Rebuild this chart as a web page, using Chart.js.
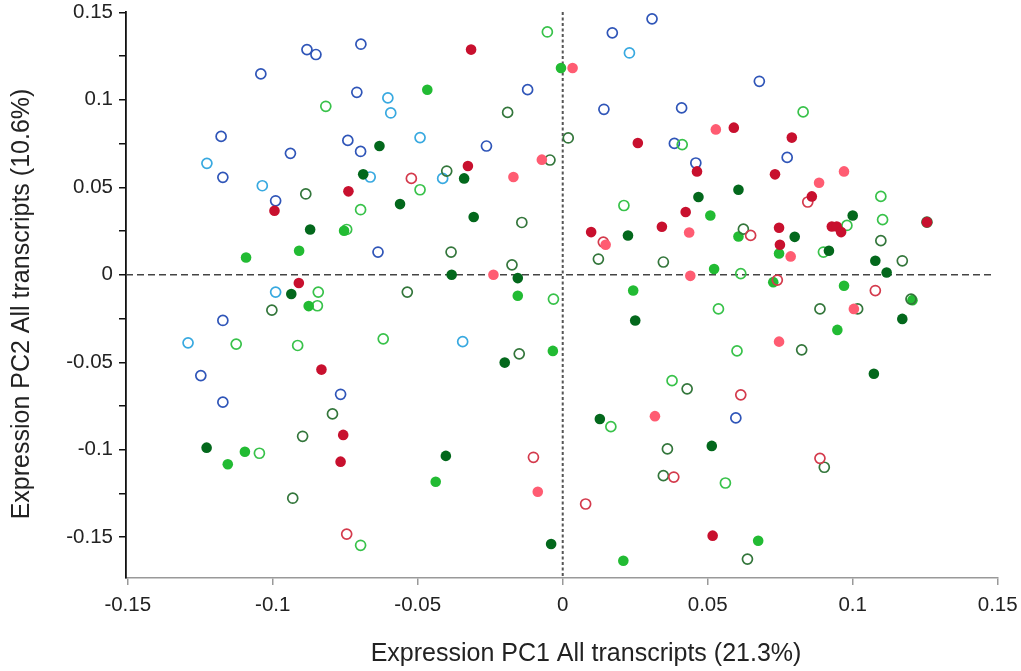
<!DOCTYPE html>
<html>
<head>
<meta charset="utf-8">
<script src="https://cdn.jsdelivr.net/npm/chart.js@4.4.1/dist/chart.umd.min.js"></script>
<style>
  body { margin: 0; background: #fff; }
  canvas { display: block; }
</style>
</head>
<body>
<canvas id="graficoPCA" width="1021" height="671"></canvas>
<script>
// valores [PC1, PC2]
var azulOscuroAbierto = [
    [-0.0882, 0.1287], [-0.0851, 0.1259], [-0.1041, 0.1148], [-0.1178, 0.0791], [-0.0939, 0.0694],
    [-0.1172, 0.0557], [-0.0990, 0.0423], [-0.0696, 0.1318], [-0.0710, 0.1043], [-0.0121, 0.1058],
    [-0.0741, 0.0768], [-0.0697, 0.0705], [-0.0263, 0.0736], [0.0308, 0.1463], [0.0171, 0.1383],
    [0.0678, 0.1106], [0.0142, 0.0946], [0.0410, 0.0954], [0.0385, 0.0751], [0.0459, 0.0639],
    [0.0774, 0.0671], [-0.0637, 0.0130], [-0.1172, -0.0261], [-0.1248, -0.0576], [-0.1172, -0.0728],
    [-0.0766, -0.0683], [0.0597, -0.0818]
];
var azulClaroAbierto = [
    [-0.1227, 0.0637], [-0.1036, 0.0509], [-0.0603, 0.1011], [-0.0593, 0.0925], [-0.0492, 0.0784],
    [-0.0664, 0.0559], [-0.0414, 0.0551], [0.0230, 0.1268], [-0.0990, -0.0099], [-0.1292, -0.0389],
    [-0.0345, -0.0382]
];
var verdeOscuroRelleno = [
    [-0.0632, 0.0736], [-0.0688, 0.0574], [-0.0340, 0.0551], [-0.0561, 0.0404], [-0.0871, 0.0259],
    [-0.0307, 0.0330], [-0.0383, 0.0000], [-0.0155, -0.0019], [-0.0936, -0.0110], [-0.0200, -0.0502],
    [0.0606, 0.0486], [0.0468, 0.0445], [0.0225, 0.0225], [0.0250, -0.0261], [0.1000, 0.0339],
    [0.0800, 0.0217], [0.0918, 0.0137], [0.1078, 0.0080], [0.1117, 0.0013], [0.1171, -0.0252],
    [0.1073, -0.0566], [-0.1228, -0.0988], [-0.0403, -0.1035], [-0.0040, -0.1539], [0.0128, -0.0824],
    [0.0514, -0.0978]
];
var verdeOscuroAbierto = [
    [-0.0886, 0.0462], [-0.0190, 0.0928], [-0.0400, 0.0593], [-0.0044, 0.0656], [0.0019, 0.0782],
    [-0.0141, 0.0299], [-0.0385, 0.0130], [-0.0175, 0.0057], [-0.0536, -0.0099], [-0.1003, -0.0202],
    [-0.0150, -0.0452], [0.0123, 0.0090], [0.0347, 0.0073], [0.0623, 0.0261], [0.1097, 0.0195],
    [0.1171, 0.0080], [0.1201, -0.0139], [0.0887, -0.0195], [0.1017, -0.0195], [0.0824, -0.0429],
    [0.1256, 0.0301], [-0.0794, -0.0795], [-0.0897, -0.0923], [-0.0931, -0.1277], [0.0429, -0.0652],
    [0.0361, -0.0995], [0.0347, -0.1148], [0.0637, -0.1625], [0.0902, -0.1100]
];
var verdeClaroRelleno = [
    [-0.0006, 0.1182], [-0.0467, 0.1058], [-0.0754, 0.0252], [-0.0909, 0.0137], [-0.1092, 0.0099],
    [-0.0876, -0.0179], [-0.0155, -0.0120], [-0.0034, -0.0435], [0.0509, 0.0339], [0.0606, 0.0219],
    [0.0746, 0.0122], [0.0522, 0.0033], [0.0726, -0.0042], [0.0243, -0.0090], [0.0970, -0.0063],
    [0.1206, -0.0145], [0.0947, -0.0315], [-0.1096, -0.1011], [-0.1155, -0.1083], [-0.0438, -0.1183],
    [0.0674, -0.1520], [0.0209, -0.1634]
];
var verdeClaroAbierto = [
    [-0.0817, 0.0963], [-0.0053, 0.1388], [-0.0492, 0.0486], [-0.0697, 0.0372], [-0.0745, 0.0259],
    [-0.0843, -0.0099], [-0.0846, -0.0177], [-0.1126, -0.0396], [-0.0914, -0.0404], [-0.0032, -0.0139],
    [-0.0619, -0.0366], [0.0412, 0.0744], [0.0829, 0.0931], [0.1097, 0.0448], [0.1103, 0.0315],
    [0.0980, 0.0282], [0.0899, 0.0130], [0.0211, 0.0396], [0.0614, 0.0007], [0.0537, -0.0195],
    [0.0601, -0.0435], [0.0377, -0.0605], [0.0166, -0.0868], [0.0561, -0.1190], [-0.1046, -0.1020],
    [-0.0697, -0.1546]
];
var rojoRelleno = [
    [-0.0316, 0.1287], [-0.0327, 0.0622], [-0.0739, 0.0477], [-0.0994, 0.0366], [-0.0910, -0.0047],
    [-0.0832, -0.0542], [-0.0757, -0.0915], [-0.0766, -0.1068], [0.0590, 0.0841], [0.0259, 0.0753],
    [0.0463, 0.0591], [0.0732, 0.0574], [0.0790, 0.0784], [0.0859, 0.0448], [0.0424, 0.0359],
    [0.0098, 0.0244], [0.0342, 0.0275], [0.0746, 0.0269], [0.0749, 0.0172], [0.0928, 0.0276],
    [0.0945, 0.0276], [0.0960, 0.0244], [0.1256, 0.0301], [0.0517, -0.1491]
];
var rojoAbierto = [
    [-0.0522, 0.0551], [0.0140, 0.0187], [0.0648, 0.0225], [0.0845, 0.0416], [0.0740, -0.0030],
    [0.1078, -0.0090], [-0.0745, -0.1482], [-0.0101, -0.1043], [0.0614, -0.0686], [0.0383, -0.1156],
    [0.0079, -0.1310], [0.0887, -0.1049]
];
var rosaRelleno = [
    [-0.0072, 0.0658], [-0.0170, 0.0559], [0.0034, 0.1182], [0.0528, 0.0831], [0.0970, 0.0591],
    [0.0884, 0.0526], [0.0148, 0.0172], [0.0436, 0.0242], [0.0786, 0.0105], [-0.0239, 0.0000],
    [0.0440, -0.0006], [0.1004, -0.0195], [0.0746, -0.0382], [0.0318, -0.0808], [-0.0086, -0.1240]
];
var lineaCeroH = [[-0.1506, 0], [0.1478, 0]];
var lineaCeroV = [[0, 0.1502], [0, -0.1733]];
var tituloX = 'Expression PC1 All transcripts (21.3%)';
var tituloY = 'Expression PC2 All transcripts (10.6%)';

function aPuntos(lista) {
    return lista.map(p => ({ x: p[0], y: p[1] }));
}

function serieAbierta(nombre, lista, color) {
    return {
        label: nombre,
        data: aPuntos(lista),
        pointRadius: 5,
        pointBorderWidth: 1.7,
        pointBorderColor: color,
        pointBackgroundColor: 'rgba(255,255,255,0)',
        borderColor: color,
        backgroundColor: 'rgba(255,255,255,0)'
    };
}

function serieRellena(nombre, lista, color) {
    return {
        label: nombre,
        data: aPuntos(lista),
        pointRadius: 5.3,
        pointBorderWidth: 0,
        pointBackgroundColor: color,
        borderColor: color,
        backgroundColor: color
    };
}

function etiqueta(v) {
    var m = Math.round(v * 1000);
    if (m % 50 !== 0) return '';
    if (m === 0) return '0';
    return String(m / 1000);
}

var fuente = "'Liberation Sans', Arial, sans-serif";

// titulos de los ejes, colocados como en la figura original
var titulosEjes = {
    id: 'titulosEjes',
    afterDraw(chart) {
        var c = chart.ctx;
        c.save();
        c.fillStyle = '#222';
        c.font = "25px 'Liberation Sans', Arial, sans-serif";
        c.textAlign = 'center';
        c.textBaseline = 'middle';
        c.fillText(tituloX, 586, 654);
        c.translate(22, 304);
        c.rotate(-Math.PI / 2);
        c.fillText(tituloY, 0, 0);
        c.restore();
    }
};

var ctx = document.getElementById('graficoPCA').getContext('2d');
new Chart(ctx, {
    type: 'scatter',
    data: {
        datasets: [
            serieRellena('Rojo', rojoRelleno, '#c8102e'),
            serieRellena('Rosa', rosaRelleno, '#ff5c72'),
            serieAbierta('Rojo abierto', rojoAbierto, '#d43a4c'),
            serieRellena('Verde oscuro', verdeOscuroRelleno, '#03681c'),
            serieAbierta('Verde oscuro abierto', verdeOscuroAbierto, '#33763b'),
            serieRellena('Verde claro', verdeClaroRelleno, '#22bb33'),
            serieAbierta('Verde claro abierto', verdeClaroAbierto, '#38c24a'),
            serieAbierta('Azul claro', azulClaroAbierto, '#38a9e0'),
            serieAbierta('Azul oscuro', azulOscuroAbierto, '#2f55b8'),
            {
                label: 'cero H',
                data: aPuntos(lineaCeroH),
                showLine: true,
                pointRadius: 0,
                borderColor: '#444',
                borderWidth: 1.6,
                borderDash: [7, 4],
                order: 10
            },
            {
                label: 'cero V',
                data: aPuntos(lineaCeroV),
                showLine: true,
                pointRadius: 0,
                borderColor: '#555',
                borderWidth: 2,
                borderDash: [3, 2.5],
                order: 10
            }
        ]
    },
    plugins: [titulosEjes],
    options: {
        responsive: false,
        animation: false,
        devicePixelRatio: 1,
        layout: { padding: { top: 12, right: 23, left: 0, bottom: 0 } },
        plugins: {
            legend: { display: false },
            tooltip: { enabled: false }
        },
        scales: {
            x: {
                type: 'linear',
                min: -0.1506,
                max: 0.1501,
                afterFit: s => { s.height = 93; s.paddingLeft = 0; s.paddingRight = 0; },
                border: { display: true, color: '#999', width: 1.5 },
                grid: { display: true, drawOnChartArea: false, drawTicks: true, tickLength: 7, color: '#999', lineWidth: 1.5 },
                ticks: {
                    stepSize: 0.05,
                    includeBounds: false,
                    autoSkip: false,
                    maxRotation: 0,
                    padding: 8,
                    color: '#222',
                    font: { family: fuente, size: 20.5 },
                    callback: etiqueta
                }
            },
            y: {
                type: 'linear',
                min: -0.1733,
                max: 0.1502,
                afterFit: s => { s.width = 126; s.paddingTop = 0; s.paddingBottom = 0; },
                border: { display: true, color: '#111', width: 1.8 },
                grid: { display: true, drawOnChartArea: false, drawTicks: true, tickLength: 7, color: '#111', lineWidth: 1.5 },
                ticks: {
                    stepSize: 0.025,
                    includeBounds: false,
                    autoSkip: false,
                    padding: 6,
                    color: '#222',
                    font: { family: fuente, size: 20.5 },
                    callback: etiqueta
                }
            }
        }
    }
});
</script>
</body>
</html>
